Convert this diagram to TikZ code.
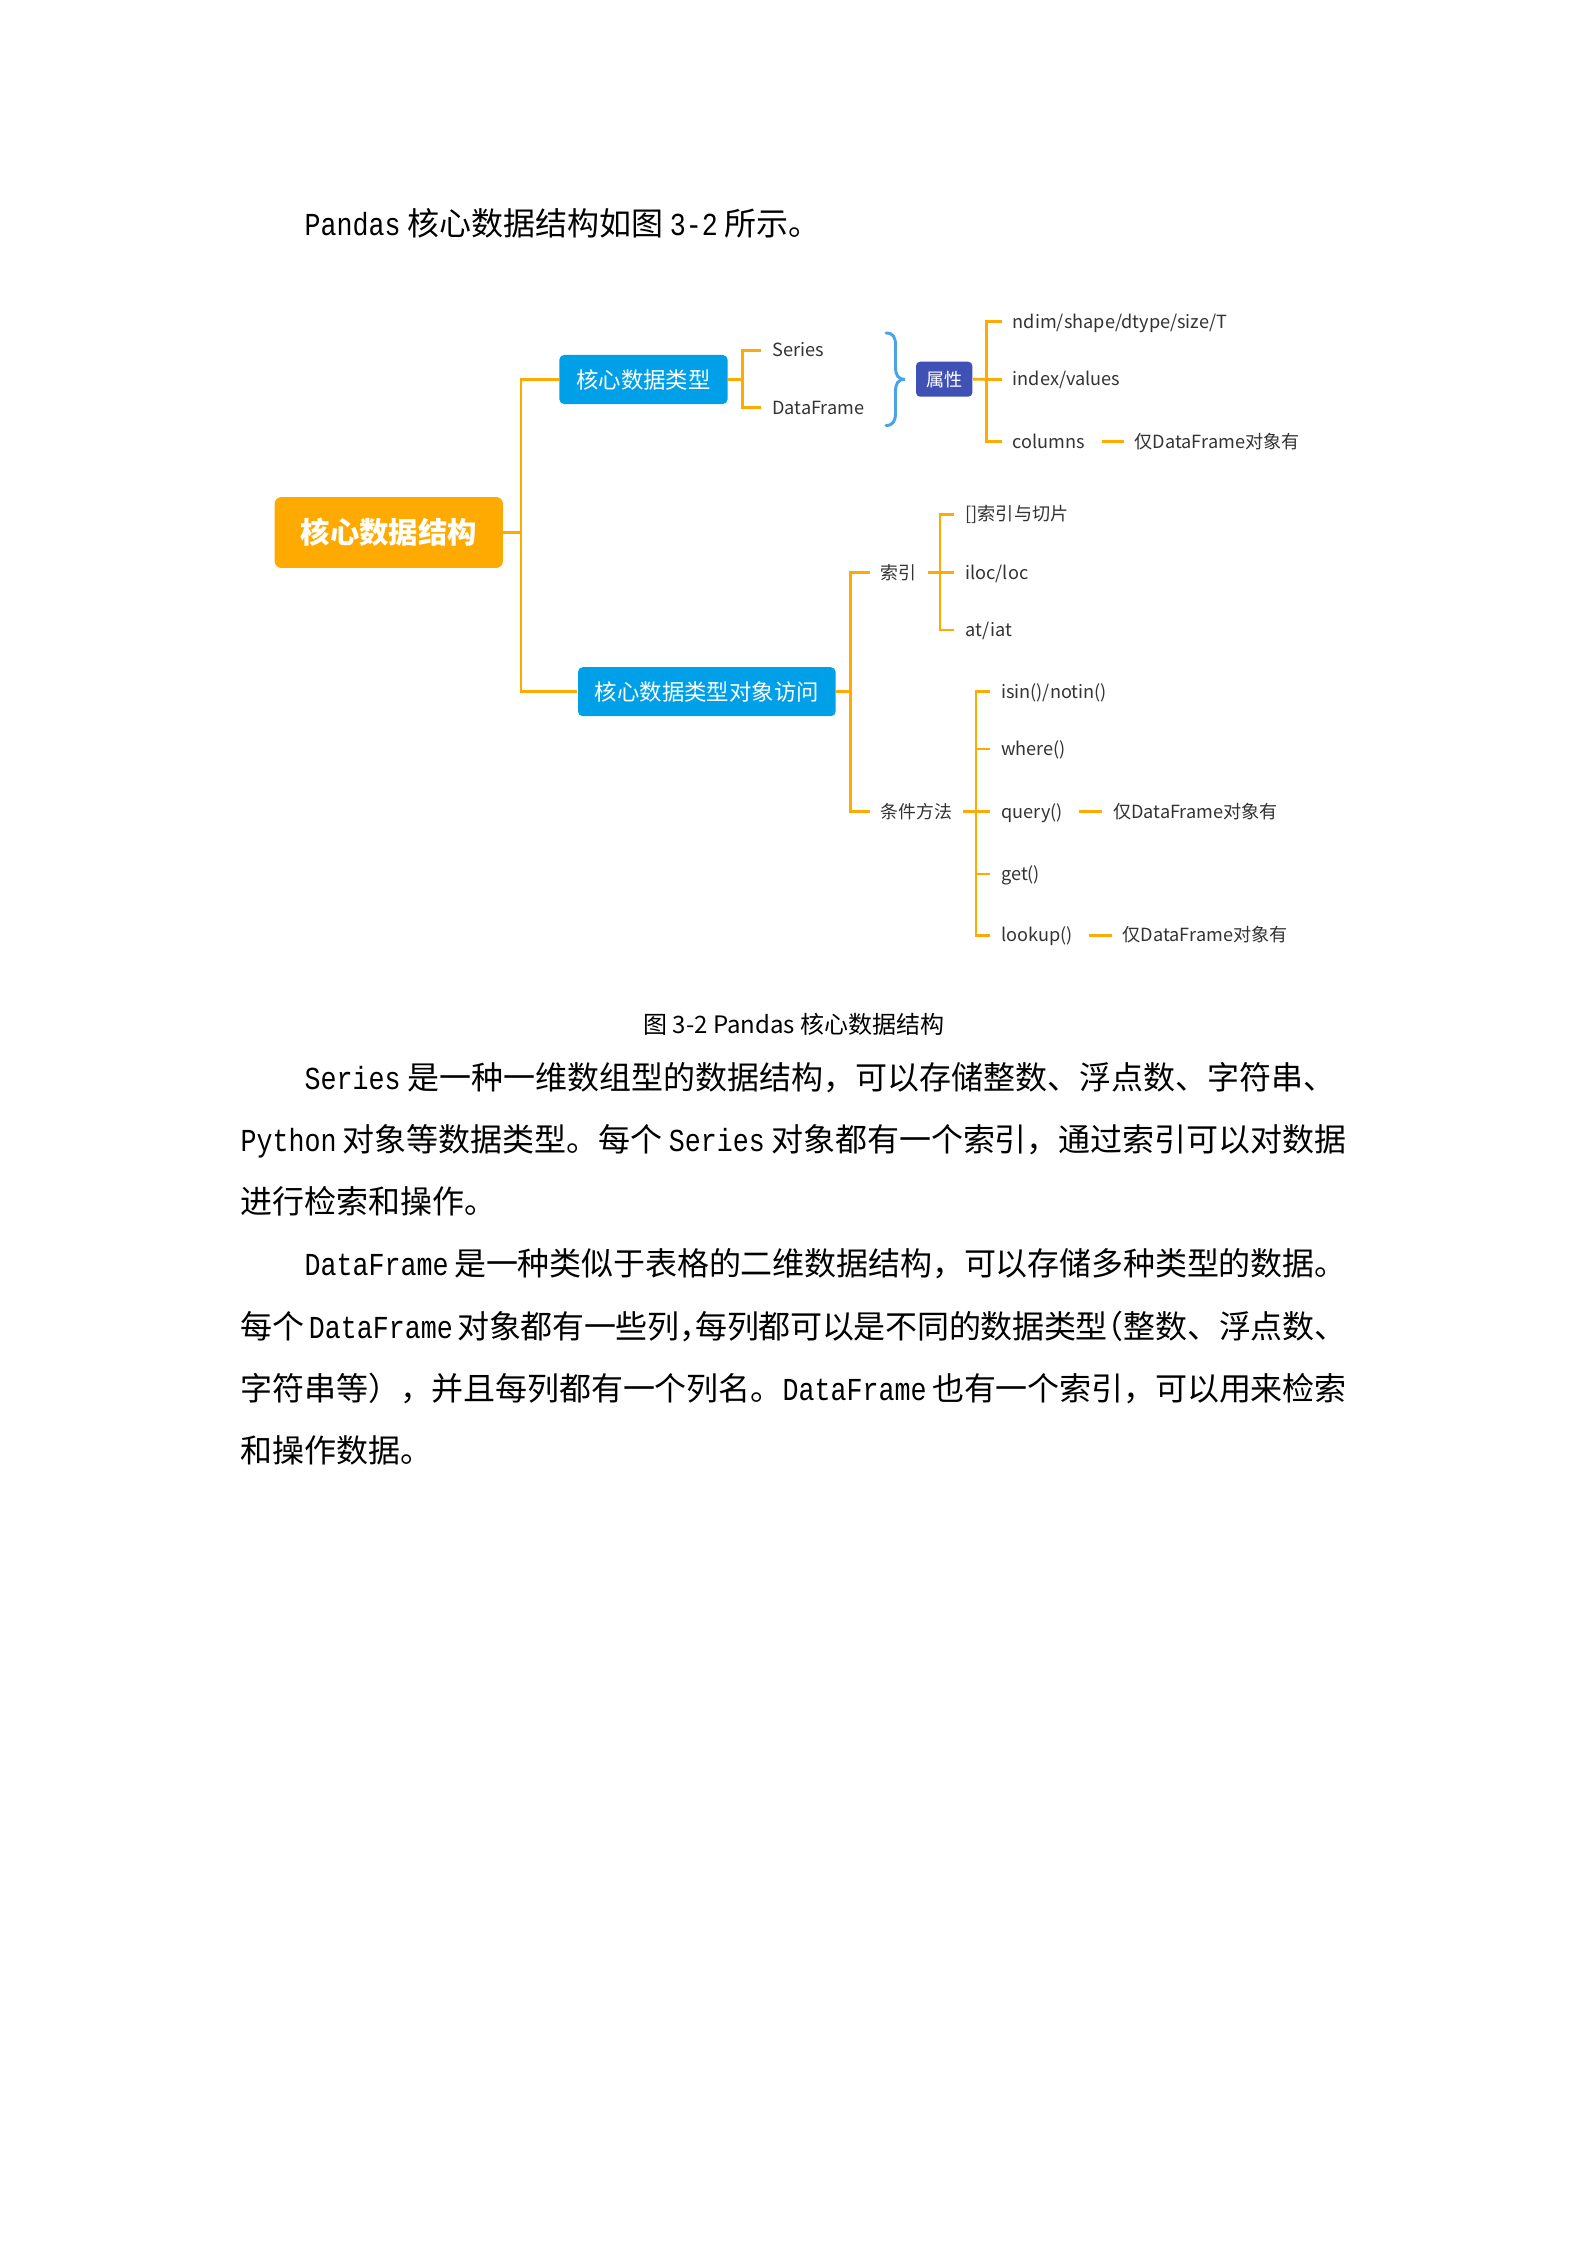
\documentclass[tikz,border=0pt]{standalone}
\usepackage{fontspec}
\setmainfont{Noto Sans CJK SC}
\newfontfamily\monofnt{Liberation Mono}[FakeStretch=0.8333]
\XeTeXlinebreaklocale "zh"
\XeTeXlinebreakskip=0pt plus 1pt minus 0.3pt
\definecolor{mmorange}{HTML}{FFAA00}
\definecolor{mmblue}{HTML}{00A0E9}
\definecolor{mmindigo}{HTML}{3F51B5}
\definecolor{mmbrace}{HTML}{4AA3E8}
\definecolor{mmtext}{HTML}{333333}
\newcommand\LT[1]{{\monofnt\fontsize{12pt}{14pt}\selectfont #1}}
\newcommand\G{\hskip 2.5pt plus 3pt minus 2pt\relax}
\newcommand\HL[1]{\makebox[6pt][l]{#1}}
\newcommand\HR[1]{\makebox[6pt][r]{#1}}
\newcommand\JL{\parfillskip=0pt\hyphenpenalty=10000\tolerance=9999\relax}
\tikzset{
 oline/.style={draw=mmorange, line width=1.1pt},
 rootbox/.style={fill=mmorange, rounded corners=2.5pt, minimum width=85.6pt, minimum height=26.6pt, text=white, font=\fontsize{11}{13}\selectfont\bfseries, inner sep=0pt},
 bluebox/.style={fill=mmblue, rounded corners=1.8pt, minimum height=18.4pt, text=white, font=\fontsize{8.4}{10}\selectfont, inner sep=0pt},
 attrbox/.style={fill=mmindigo, rounded corners=1.5pt, minimum width=21.1pt, minimum height=13.1pt, text=white, font=\fontsize{6.8}{8}\selectfont, inner sep=0pt},
 leaf/.style={anchor=west, inner xsep=4pt, inner ysep=0pt, text height=5.5pt, text depth=0.7pt, text=mmtext, font=\fontsize{6.8}{8.5}\selectfont},
 mid/.style={leaf, font=\fontsize{6.7}{8}\selectfont},
 body/.style={anchor=base west, inner sep=0pt, font=\fontsize{12}{14}\selectfont},
 jline/.style={body, text width=414.75pt, align=justify},
 jind/.style={body, text width=390.75pt, align=justify},
 captext/.style={inner sep=0pt, font=\fontsize{9}{11}\selectfont},
}
\begin{document}
\begin{tikzpicture}[x=0.375pt, y=-0.375pt]
\fill[white] (0,0) rectangle (1587,2245);
\useasboundingbox (0,0) rectangle (1587,2245);

% intro line
\node[body] (intro) at (304,235.5) {\LT{Pandas}\G 核心数据结构如图\G\LT{3-2}\G 所示。};

% mind map boxes
\node[rootbox] (root) at (388.8,532.5) {核心数据结构};
\node[bluebox, minimum width=63.1pt] (typ) at (643.5,379.5) {核心数据类型};
\node[bluebox, minimum width=96.6pt] (acc) at (706.8,691.7) {核心数据类型对象访问};
\node[attrbox] (attr) at (944.2,379.2) {属性};

\coordinate (tr) at (521,532.5);
\coordinate (b1) at (742.5,379.5);
\coordinate (b3) at (986.7,379.3);
\coordinate (b4) at (850.5,691.7);
\coordinate (b5) at (940,572.7);
\coordinate (b6) at (976,811.7);

% leaves
\node[leaf] (ser) at (761,350.3) {Series};
\node[leaf] (df) at (761,407.7) {DataFrame};
\node[leaf] (ndim) at (1001.7,321.7) {ndim/shape/dtype/size/T};
\node[leaf] (idx) at (1001.7,379.3) {index/values};
\node[leaf] (cols) at (1001.7,441.7) {columns};
\node[leaf] (note1) at (1123.5,441.7) {仅DataFrame对象有};

\node[mid] (suoyin) at (869.6,572.7) {索引};
\node[mid] (tiaojian) at (869.6,811.7) {条件方法};
\node[leaf] (lb) at (954.3,514.3) {[]索引与切片};
\node[leaf] (iloc) at (954.3,572.7) {iloc/loc};
\node[leaf] (atiat) at (954.3,630) {at/iat};
\node[leaf] (isin) at (990,691.7) {isin()/notin()};
\node[leaf] (where) at (990,749) {where()};
\node[leaf] (query) at (990,811.7) {query()};
\node[leaf] (get) at (990,874) {get()};
\node[leaf] (lookup) at (990,935.5) {lookup()};
\node[leaf] (note2) at (1102,811.7) {仅DataFrame对象有};
\node[leaf] (note3) at (1111.5,935.5) {仅DataFrame对象有};

% connectors
\draw[oline] (root.east) -- (tr);
\draw[oline] (typ.west) -| (tr) |- (acc.west);
\draw[oline] (typ.east) -- (b1);
\draw[oline] (ser.west) -| (b1) |- (df.west);
\draw[oline] (attr.east) -- (b3);
\draw[oline] (ndim.west) -| (b3) |- (cols.west);
\draw[oline] (b3) -- (idx.west);
\draw[oline, shorten <=2pt] (cols.east) -- (note1.west);
\draw[oline] (acc.east) -- (b4);
\draw[oline] (suoyin.west) -| (b4) |- (tiaojian.west);
\draw[oline] (suoyin.east) -- (b5);
\draw[oline] (lb.west) -| (b5) |- (atiat.west);
\draw[oline] (b5) -- (iloc.west);
\draw[oline] (tiaojian.east) -- (b6);
\draw[oline] (isin.west) -| (b6) |- (lookup.west);
\draw[oline] (b6 |- where.west) -- (where.west);
\draw[oline] (b6) -- (query.west);
\draw[oline] (b6 |- get.west) -- (get.west);
\draw[oline, shorten <=2pt] (query.east) -- (note2.west);
\draw[oline, shorten <=2pt] (lookup.east) -- (note3.west);

% brace
\draw[mmbrace, line width=1.1pt, line cap=round] (886,333) .. controls (893,333) and (895.5,337) .. (895.5,345) -- (895.5,367) .. controls (895.5,375) and (898,379.3) .. (905,379.3) .. controls (898,379.3) and (895.5,383.6) .. (895.5,391.6) -- (895.5,413) .. controls (895.5,421) and (893,425.5) .. (886,425.5);

% caption
\node[captext] (caption) at (794,1024) {图 3-2 Pandas 核心数据结构};

% body text
\node[jind] (p1a) at (304,1089) {\JL\LT{Series}\G 是一种一维数组型的数据结构，可以存储整数、浮点数、字符串、};
\node[jline] (p1b) at (240,1151.3) {\JL\LT{Python}\G 对象等数据类型。每个\G\LT{Series}\G 对象都有一个索引，通过索引可以对数据};
\node[body] (p1c) at (240,1213.6) {进行检索和操作。};
\node[jind] (p2a) at (304,1275.9) {\JL\LT{DataFrame}\G 是一种类似于表格的二维数据结构，可以存储多种类型的数据。};
\node[jline] (p2b) at (240,1338.2) {\JL 每个\G\LT{DataFrame}\G 对象都有一些列\HL{，}每列都可以是不同的数据类型\HR{（}整数、浮点数、};
\node[jline] (p2c) at (240,1400.5) {\JL 字符串等），并且每列都有一个列名。\LT{DataFrame}\G 也有一个索引，可以用来检索};
\node[body] (p2d) at (240,1462.8) {和操作数据。};
\end{tikzpicture}
\end{document}
